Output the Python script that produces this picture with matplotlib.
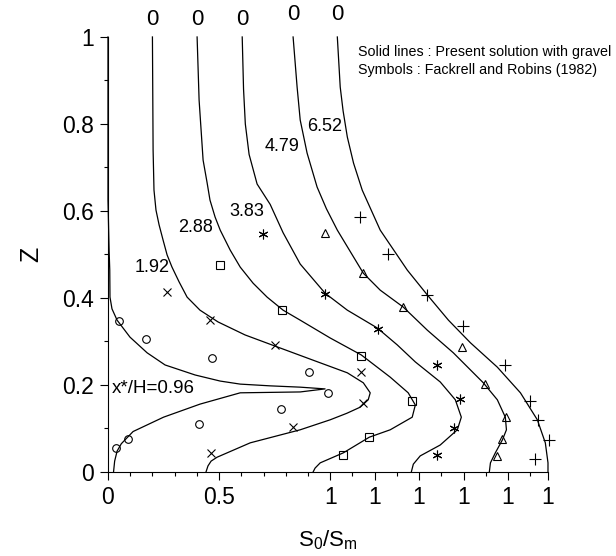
import numpy as np
import matplotlib.pyplot as plt
from matplotlib.ticker import FixedLocator

plt.rcParams['font.family'] = ['Liberation Sans', 'DejaVu Sans']

# x*/H values of the six profiles and their horizontal shift on the plot
labels = ['0.96', '1.92', '2.88', '3.83', '4.79', '6.52']
offsets = [0.0, 0.2, 0.4, 0.6, 0.8, 0.98]

# present solution (solid lines), S0/Sm vs Z, read top to bottom
z1 = [1.0, 0.625, 0.51, 0.464, 0.402, 0.375, 0.349, 0.310, 0.274, 0.246, 0.223, 0.209, 0.202,
      0.198, 0.195, 0.191, 0.184, 0.182, 0.156, 0.126, 0.093, 0.065, 0.048, 0.025, 0.0]
s1 = [0.0, 0.0, 0.005, 0.008, 0.009, 0.018, 0.041, 0.099, 0.176, 0.257, 0.392, 0.505, 0.595,
      0.730, 0.865, 0.977, 0.865, 0.595, 0.414, 0.250, 0.113, 0.060, 0.041, 0.030, 0.025]
z2 = [1.0, 0.740, 0.648, 0.602, 0.568, 0.533, 0.499, 0.471, 0.437, 0.402, 0.372, 0.345, 0.315,
      0.285, 0.257, 0.228, 0.205, 0.182, 0.166, 0.149, 0.135, 0.120, 0.097, 0.067, 0.034, 0.025,
      0.014, 0.0]
s2 = [0.0, 0.003, 0.007, 0.016, 0.030, 0.048, 0.066, 0.088, 0.120, 0.156, 0.214, 0.295, 0.417,
      0.575, 0.723, 0.877, 0.949, 0.980, 0.971, 0.935, 0.875, 0.800, 0.665, 0.440, 0.291, 0.264,
      0.250, 0.241]
z3 = [1.0, 0.855, 0.717, 0.665, 0.625, 0.586, 0.556, 0.510, 0.471, 0.434, 0.402, 0.372, 0.349,
      0.308, 0.269, 0.218, 0.182, 0.154, 0.126, 0.097, 0.080, 0.044, 0.021, 0.009, 0.0]
s3 = [0.001, 0.010, 0.028, 0.046, 0.059, 0.082, 0.105, 0.150, 0.195, 0.253, 0.316, 0.388, 0.465,
      0.600, 0.740, 0.870, 0.951, 0.983, 0.969, 0.870, 0.776, 0.659, 0.555, 0.532, 0.523]
z4 = [1.0, 0.880, 0.800, 0.730, 0.662, 0.615, 0.550, 0.478, 0.411, 0.372, 0.331, 0.292, 0.253,
      0.207, 0.166, 0.126, 0.097, 0.062, 0.037, 0.018, 0.0]
s4 = [0.004, 0.010, 0.018, 0.035, 0.071, 0.130, 0.188, 0.265, 0.377, 0.477, 0.612, 0.702, 0.783,
      0.895, 0.963, 0.990, 0.972, 0.895, 0.805, 0.774, 0.765]
z5 = [1.0, 0.885, 0.809, 0.733, 0.655, 0.605, 0.556, 0.457, 0.418, 0.379, 0.326, 0.274, 0.205,
      0.166, 0.126, 0.097, 0.074, 0.044, 0.021, 0.0]
s5 = [0.033, 0.051, 0.065, 0.096, 0.141, 0.183, 0.232, 0.349, 0.425, 0.529, 0.637, 0.754, 0.889,
      0.952, 0.988, 0.993, 0.975, 0.943, 0.921, 0.916]
z6 = [1.0, 0.885, 0.830, 0.770, 0.710, 0.648, 0.556, 0.464, 0.407, 0.349, 0.297, 0.241, 0.182,
      0.120, 0.067, 0.021, 0.0]
s6 = [0.052, 0.065, 0.078, 0.097, 0.125, 0.164, 0.245, 0.367, 0.457, 0.552, 0.651, 0.772, 0.876,
      0.952, 0.988, 1.0, 1.0]

# Fackrell and Robins (1982) measurements
mz1 = [0.347, 0.306, 0.262, 0.230, 0.182, 0.145, 0.110, 0.076, 0.055]
ms1 = [0.050, 0.171, 0.468, 0.905, 0.991, 0.779, 0.410, 0.090, 0.036]
mz2 = [0.414, 0.349, 0.292, 0.230, 0.159, 0.103, 0.044]
ms2 = [0.066, 0.259, 0.552, 0.940, 0.949, 0.633, 0.264]
mz3 = [0.476, 0.372, 0.267, 0.163, 0.080, 0.039]
ms3 = [0.105, 0.384, 0.740, 0.969, 0.776, 0.659]
mz4 = [0.547, 0.409, 0.329, 0.246, 0.168, 0.101, 0.039]
ms4 = [0.098, 0.377, 0.616, 0.882, 0.986, 0.959, 0.882]
mz5 = [0.549, 0.457, 0.379, 0.287, 0.202, 0.126, 0.076, 0.037]
ms5 = [0.177, 0.349, 0.529, 0.795, 0.898, 0.993, 0.975, 0.952]
mz6 = [0.586, 0.501, 0.407, 0.336, 0.246, 0.163, 0.120, 0.074, 0.030]
ms6 = [0.155, 0.281, 0.457, 0.619, 0.808, 0.921, 0.957, 1.006, 0.943]

curves = [(s1, z1), (s2, z2), (s3, z3), (s4, z4), (s5, z5), (s6, z6)]
points = [(ms1, mz1), (ms2, mz2), (ms3, mz3), (ms4, mz4), (ms5, mz5), (ms6, mz6)]

fig = plt.figure(figsize=(6.16, 5.56), dpi=100)
ax = fig.add_axes([0.1753, 0.1511, 0.7143, 0.7824])

for (s, z), off in zip(curves, offsets):
    ax.plot(np.array(s) + off, z, color='black', lw=0.9, clip_on=False)

styles = [dict(marker='o', ms=5.5, mfc='none'),
          dict(marker='x', ms=6),
          dict(marker='s', ms=5.5, mfc='none'),
          dict(marker=(6, 2, 0), ms=7),
          dict(marker='^', ms=6, mfc='none'),
          dict(marker='+', ms=8)]
for (s, z), off, st in zip(points, offsets, styles):
    ax.plot(np.array(s) + off, z, ls='none', color='black', mec='black', mew=0.8,
            clip_on=False, **st)

ax.set_xlim(0, offsets[-1] + 1)
ax.set_ylim(0, 1)

# bottom ticks: 0, 0.5 and the "1" of each shifted profile
xmaj = [0, 0.5] + [o + 1 for o in offsets]
ax.xaxis.set_major_locator(FixedLocator(xmaj))
ax.set_xticklabels(['0', '0.5'] + ['1'] * len(offsets))
ax.xaxis.set_minor_locator(FixedLocator([0.1, 0.2, 0.3, 0.4, 0.6, 0.7, 0.8, 0.9, 1.1, 1.3, 1.5, 1.7, 1.9]))
ax.set_yticks([0, 0.2, 0.4, 0.6, 0.8, 1.0])
ax.set_yticklabels(['0', '0.2', '0.4', '0.6', '0.8', '1'])
ax.yaxis.set_minor_locator(FixedLocator([0.1, 0.3, 0.5, 0.7, 0.9]))
ax.tick_params(which='major', direction='out', length=6, width=0.8, labelsize=16.5, pad=4)
ax.tick_params(which='minor', direction='out', length=3, width=0.8)

for sp in ['top', 'right']:
    ax.spines[sp].set_visible(False)
for sp in ['left', 'bottom']:
    ax.spines[sp].set_linewidth(0.8)

# "0" of each shifted profile along the top
top_y = [1.04, 1.04, 1.04, 1.052, 1.052]
for (s, z), off, ty in zip(curves[1:], offsets[1:], top_y):
    ax.text(s[0] + off, ty, '0', fontsize=16, ha='center', va='center')

ax.text(0.018, 0.193, 'x*/H=' + labels[0], fontsize=13.5, ha='left', va='center')
lab_pos = [(0.198, 0.471), (0.392, 0.561), (0.626, 0.598), (0.784, 0.749), (0.973, 0.795)]
for lab, (lx, ly) in zip(labels[1:], lab_pos):
    ax.text(lx, ly, lab, fontsize=13, ha='center', va='center')

ax.text(1.126, 0.966, 'Solid lines : Present solution with gravel', fontsize=10.3, ha='left', va='center')
ax.text(1.126, 0.924, 'Symbols : Fackrell and Robins (1982)', fontsize=10.3, ha='left', va='center')

ax.set_ylabel('Z', fontsize=18, labelpad=14)
ax.set_xlabel(r'$\mathregular{S_0/S_m}$', fontsize=16, labelpad=14)

fig.savefig('out.png', dpi=100)
